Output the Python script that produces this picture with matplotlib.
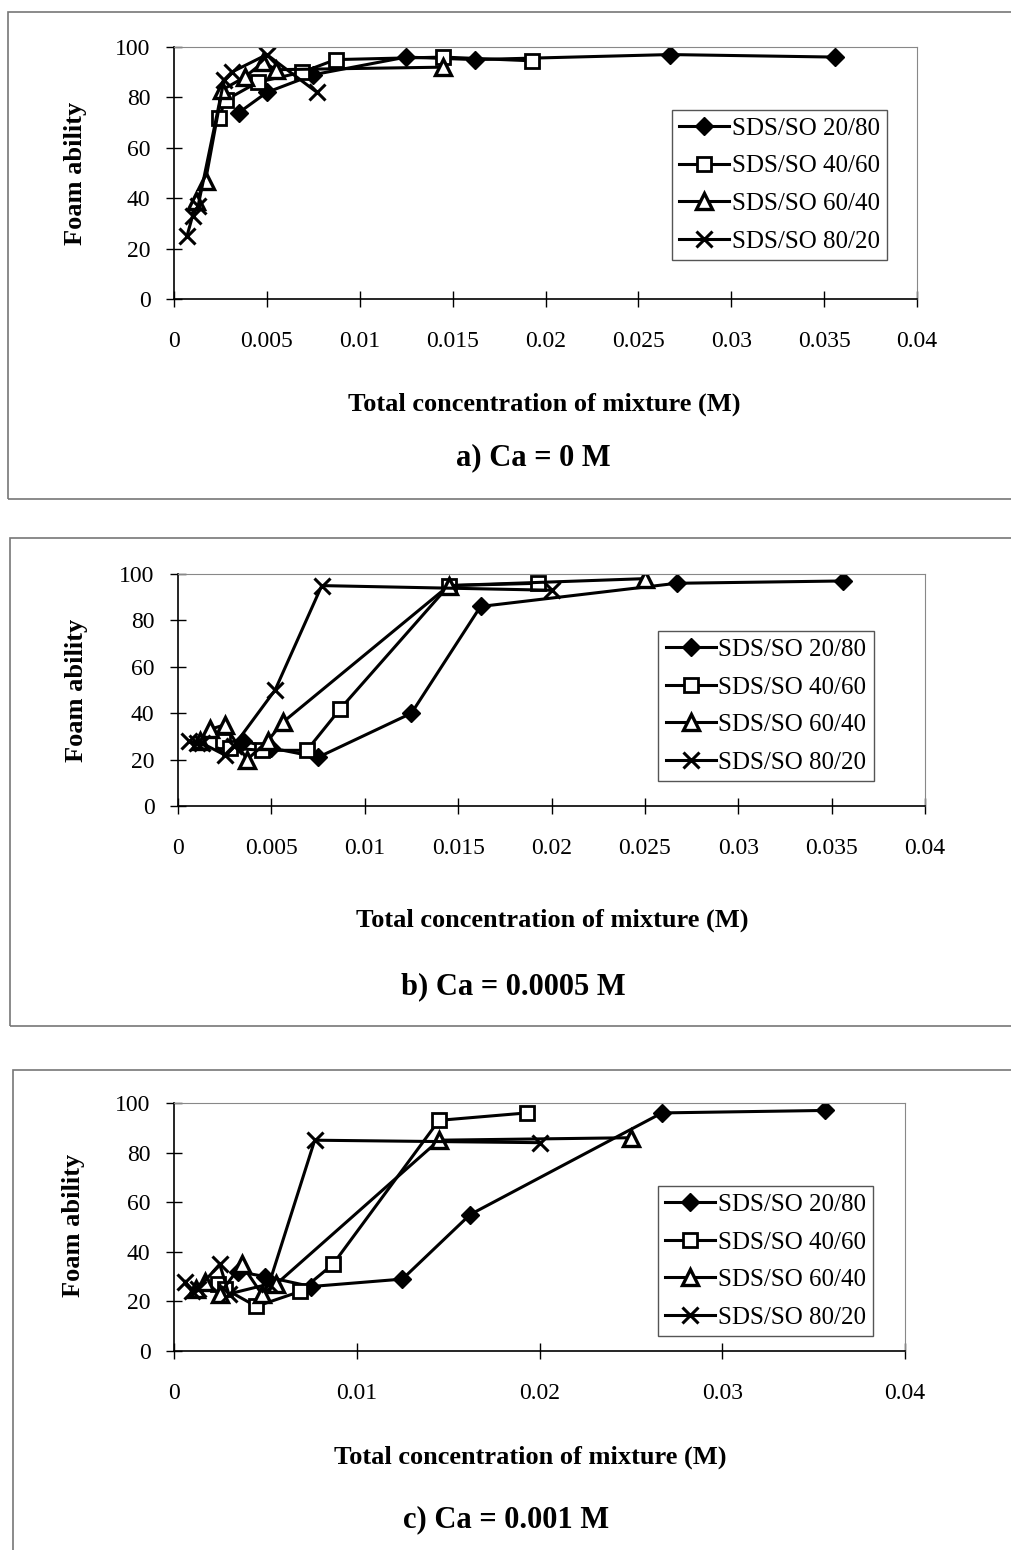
import matplotlib
matplotlib.use("Agg")
import matplotlib.pyplot as plt
from matplotlib.patches import Rectangle

plt.rcParams['font.family'] = ['Liberation Serif', 'DejaVu Serif']

# Concentrations (M) for each SDS/SO ratio
conc_2080 = [0.0035, 0.005, 0.0075, 0.0125, 0.0162, 0.0267, 0.0356]
conc_4060 = [0.0024, 0.0028, 0.0045, 0.0069, 0.0087, 0.0145, 0.0193]
conc_6040_a = [0.0012, 0.0017, 0.0026, 0.0038, 0.0048, 0.0055, 0.0145]
conc_6040 = [0.0012, 0.0017, 0.0025, 0.0037, 0.0048, 0.0056, 0.0145, 0.025]
conc_8020_a = [0.0007, 0.001, 0.0013, 0.0027, 0.0031, 0.005, 0.0077]
conc_8020 = [0.0006, 0.001, 0.0013, 0.0025, 0.003, 0.0052, 0.0077, 0.02]

# a) Ca = 0 M
a_2080 = [74, 82, 89, 96, 95, 97, 96]
a_4060 = [72, 79, 86, 90, 95, 96, 94.5]
a_6040 = [39, 47, 83, 88, 94, 91, 92]
a_8020 = [25, 33, 37, 87, 90, 97, 82]

# b) Ca = 0.0005 M
b_2080 = [28, 25, 21, 40, 86, 96, 97]
b_4060 = [28, 25, 24, 24, 42, 95, 96]
b_6040 = [28, 33, 35, 20, 28, 36, 95, 98]
b_8020 = [28, 27, 27, 22, 26, 50, 95, 93]

# c) Ca = 0.001 M
c_2080 = [32, 30, 26, 29, 55, 96, 97]
c_4060 = [27, 25, 18, 24, 35, 93, 96]
c_6040 = [25, 28, 23, 35, 23, 27, 85, 86]
c_8020 = [28, 24, 25, 35, 23, 27, 85, 84]

labels = ["SDS/SO 20/80", "SDS/SO 40/60", "SDS/SO 60/40", "SDS/SO 80/20"]
captions = ["a) Ca = 0 M", "b) Ca = 0.0005 M", "c) Ca = 0.001 M"]
xticks_ab = [0, 0.005, 0.01, 0.015, 0.02, 0.025, 0.03, 0.035, 0.04]
xticks_c = [0, 0.01, 0.02, 0.03, 0.04]
yticks = [0, 20, 40, 60, 80, 100]

W, H = 1011, 1550
fig = plt.figure(figsize=(W / 100, H / 100), dpi=100)


def px_axes(left, right, top, bottom):
    return [left / W, 1 - bottom / H, (right - left) / W, (bottom - top) / H]


panels = [
    dict(box=px_axes(174, 917, 47, 299), xticks=xticks_ab,
         series=[(conc_2080, a_2080), (conc_4060, a_4060), (conc_6040_a, a_6040), (conc_8020_a, a_8020)],
         leg=(0.67, 0.75), xlab=(0.498, -0.37), ylab=(-0.117, 0.5),
         cap=(533, 458), frame=(8, 12, 499)),
    dict(box=px_axes(178, 925, 574, 806), xticks=xticks_ab,
         series=[(conc_2080, b_2080), (conc_4060, b_4060), (conc_6040, b_6040), (conc_8020, b_8020)],
         leg=(0.643, 0.754), xlab=(0.501, -0.44), ylab=(-0.12, 0.5),
         cap=(513, 987), frame=(10, 538, 1026)),
    dict(box=px_axes(174, 905, 1103, 1351), xticks=xticks_c,
         series=[(conc_2080, c_2080), (conc_4060, c_4060), (conc_6040, c_6040), (conc_8020, c_8020)],
         leg=(0.662, 0.665), xlab=(0.488, -0.38), ylab=(-0.122, 0.508),
         cap=(506, 1520), frame=(13, 1070, 1600)),
]

styles = [
    dict(marker='D', markersize=9, markerfacecolor='black', markeredgecolor='black'),
    dict(marker='s', markersize=10, markerfacecolor='white', markeredgecolor='black', markeredgewidth=2),
    dict(marker='^', markersize=11, markerfacecolor='white', markeredgecolor='black', markeredgewidth=2.4),
    dict(marker='x', markersize=12, markeredgecolor='black', markeredgewidth=2.2),
]

for i, p in enumerate(panels):
    # outer frame round each panel
    fx, ftop, fbot = p["frame"]
    fig.patches.append(Rectangle((fx / W, 1 - fbot / H), 1.2, (fbot - ftop) / H,
                                 transform=fig.transFigure, fill=False,
                                 edgecolor='#777777', linewidth=1.2))

    ax = fig.add_axes(p["box"])
    for (xs, ys), st, lab in zip(p["series"], styles, labels):
        ax.plot(xs, ys, color='black', linewidth=2.2, label=lab, **st)

    ax.set_xlim(0, 0.04)
    ax.set_ylim(0, 100)
    ax.set_xticks(p["xticks"])
    ax.set_xticklabels(["%g" % t for t in p["xticks"]])
    ax.set_yticks(yticks)
    ax.tick_params(direction='inout', length=12, width=1, labelsize=17)
    ax.tick_params(axis='x', pad=17)
    ax.tick_params(axis='y', pad=11)
    ax.spines['top'].set_color('#888888')
    ax.spines['right'].set_color('#888888')
    ax.spines['left'].set_linewidth(1.2)
    ax.spines['bottom'].set_linewidth(1.2)

    ax.set_xlabel("Total concentration of mixture (M)", fontsize=19, fontweight='bold')
    ax.xaxis.set_label_coords(*p["xlab"])
    ax.set_ylabel("Foam ability", fontsize=19, fontweight='bold')
    ax.yaxis.set_label_coords(*p["ylab"])

    leg = ax.legend(loc='upper left', bbox_to_anchor=p["leg"], fontsize=18,
                    fancybox=False, edgecolor='#555555', framealpha=1,
                    handlelength=2.0, handletextpad=0.1, borderpad=0.3,
                    labelspacing=0.6, borderaxespad=0)
    leg.get_frame().set_linewidth(1)

    cx, cy = p["cap"]
    fig.text(cx / W, 1 - cy / H, captions[i], ha='center', va='center',
             fontsize=22, fontweight='bold')

fig.savefig("out.png", dpi=100)
